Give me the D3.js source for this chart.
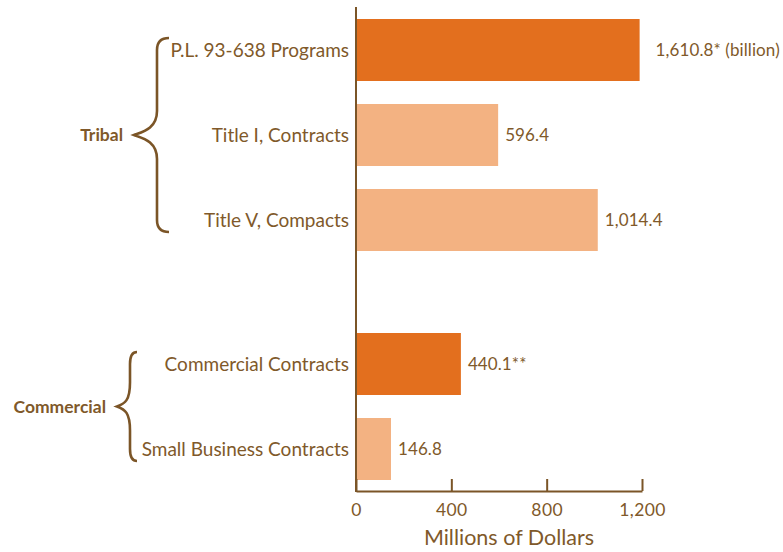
<!DOCTYPE html>
<html>
<head>
<meta charset="utf-8">
<script src="https://cdn.jsdelivr.net/npm/d3@7"></script>
<style>
  body { margin: 0; background: #fff; }
  svg { display: block; font-family: 'Lato', 'Open Sans', sans-serif; }
</style>
</head>
<body>
<svg></svg>
<script>
// data
let categories = ['P.L. 93-638 Programs', 'Title I, Contracts', 'Title V, Compacts', 'Commercial Contracts', 'Small Business Contracts']
let values = [1610.8, 596.4, 1014.4, 440.1, 146.8]
let valueLabels = ['1,610.8* (billion)', '596.4', '1,014.4', '440.1**', '146.8']
let groupOf = ['Tribal', 'Tribal', 'Tribal', 'Commercial', 'Commercial']
let shade = ['dark', 'light', 'light', 'dark', 'light']
let groups = ['Tribal', 'Commercial']
let xTicks = [0, 400, 800, 1200]
let barCap = 1190   // first bar runs off the scale, drawn cut short

let width = 783
let height = 552
let textColor = '#80592a'
let colors = { dark: '#e36f1e', light: '#f3b282' }

let svg = d3.select('svg')
    .attr('width', width)
    .attr('height', height)

let xScale = d3.scaleLinear()
    .domain([0, 1200])
    .range([356, 642])

// five bands, with the commercial group pushed down by a gap
let groupGap = 59
let yBand = d3.scaleBand()
    .domain(categories)
    .range([19, 421])
    .paddingInner(23 / 85)
    .paddingOuter(0)

let yPos = (c) => {
    let i = categories.indexOf(c)
    return yBand(c) + (groupOf[i] == 'Commercial' ? groupGap : 0)
}

let rows = categories.map((c, i) => {
    return { name: c, value: values[i], label: valueLabels[i], group: groupOf[i], shade: shade[i] }
})

// bars
svg.selectAll('rect.bar')
    .data(rows)
    .enter()
    .append('rect')
    .attr('class', 'bar')
    .attr('x', xScale(0))
    .attr('y', (d) => yPos(d.name))
    .attr('width', (d) => xScale(Math.min(d.value, barCap)) - xScale(0))
    .attr('height', yBand.bandwidth())
    .attr('fill', (d) => colors[d.shade])

// value labels
svg.selectAll('text.val')
    .data(rows)
    .enter()
    .append('text')
    .attr('class', 'val')
    .attr('x', (d) => xScale(Math.min(d.value, barCap)) + (d.value > barCap ? 16 : 7))
    .attr('y', (d) => yPos(d.name) + yBand.bandwidth() / 2)
    .attr('dy', '0.35em')
    .attr('fill', textColor)
    .style('font-size', '17px')
    .style('letter-spacing', '0.1px')
    .text((d) => d.label)

// category labels
svg.selectAll('text.cat')
    .data(rows)
    .enter()
    .append('text')
    .attr('class', 'cat')
    .attr('x', xScale(0) - 7)
    .attr('y', (d) => yPos(d.name) + yBand.bandwidth() / 2)
    .attr('dy', '0.35em')
    .attr('text-anchor', 'end')
    .attr('fill', textColor)
    .style('font-size', '19px')
    .text((d) => d.name)

// x axis, ticks pointing up
let xAxis = d3.axisBottom(xScale)
    .tickValues(xTicks)
    .tickSizeInner(-12)
    .tickSizeOuter(0)
    .tickPadding(13)
    .tickFormat(d3.format(','))

let axisY = 491
let gx = svg.append('g')
    .attr('id', 'x-axis')
    .attr('transform', 'translate(0,' + axisY + ')')
    .call(xAxis)
gx.selectAll('path, line').attr('stroke', '#7b5527').attr('stroke-width', 2)
gx.selectAll('text')
    .attr('fill', textColor)
    .style('font-size', '17.5px')
    .style('font-family', "'Lato', 'Open Sans', sans-serif")
    .style('letter-spacing', '0.4px')

// vertical axis line
svg.append('line')
    .attr('x1', xScale(0))
    .attr('x2', xScale(0))
    .attr('y1', 7)
    .attr('y2', axisY + 1)
    .attr('stroke', '#7b5527')
    .attr('stroke-width', 2)

svg.append('text')
    .attr('x', (xScale(0) + xScale(1200)) / 2 + 10)
    .attr('y', 545)
    .attr('text-anchor', 'middle')
    .attr('fill', textColor)
    .style('font-size', '21.5px')
    .text('Millions of Dollars')

// braces and group names
let braceInfo = {
    Tribal: { vx: 157, tip: 134, end: 169 },
    Commercial: { vx: 130, tip: 117, end: 137 }
}

let bracePath = (top, bottom, vx, tip, end) => {
    let mid = (top + bottom) / 2
    let r = 12
    let p = d3.path()
    p.moveTo(end, top)
    p.quadraticCurveTo(vx, top, vx, top + r)
    p.lineTo(vx, mid - r * 2)
    p.bezierCurveTo(vx, mid - 6, tip + 8, mid - 3, tip, mid)
    p.bezierCurveTo(tip + 8, mid + 3, vx, mid + 6, vx, mid + r * 2)
    p.lineTo(vx, bottom - r)
    p.quadraticCurveTo(vx, bottom, end, bottom)
    return p.toString()
}

groups.forEach((g) => {
    let members = rows.filter((d) => d.group == g)
    let top = yPos(members[0].name) + yBand.bandwidth() / 2 - 12
    let bottom = yPos(members[members.length - 1].name) + yBand.bandwidth() / 2 + 12
    let b = braceInfo[g]
    svg.append('path')
        .attr('d', bracePath(top, bottom, b.vx, b.tip, b.end))
        .attr('fill', 'none')
        .attr('stroke', '#7b5527')
        .attr('stroke-width', 2.6)
    svg.append('text')
        .attr('x', b.tip - 11)
        .attr('y', (top + bottom) / 2)
        .attr('dy', '0.35em')
        .attr('text-anchor', 'end')
        .attr('fill', textColor)
        .style('font-size', '17.5px')
        .style('font-weight', 'bold')
        .text(g)
})
</script>
</body>
</html>
